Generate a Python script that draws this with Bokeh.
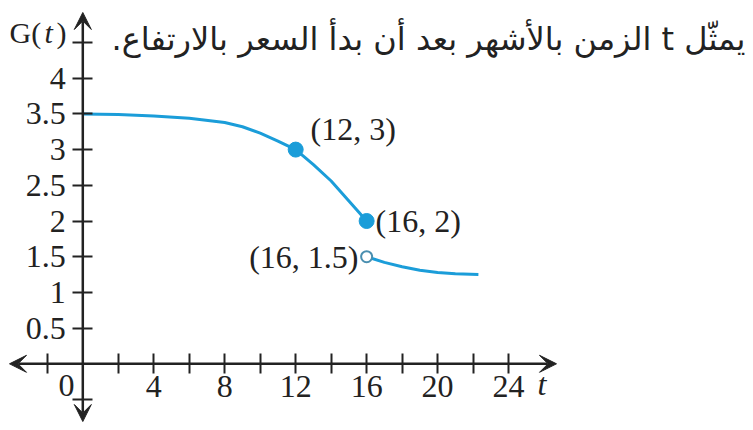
from bokeh.plotting import figure
from bokeh.models import FixedTicker, Arrow, VeeHead, LinearAxis, Range1d
from bokeh.core.properties import value
from bokeh.embed import file_html
from bokeh.resources import INLINE

# ---- data ----
seg1_t = [0, 2, 4, 6, 8, 9, 10, 11, 12, 13, 14, 15, 16]
seg1_g = [3.5, 3.49, 3.47, 3.44, 3.38, 3.32, 3.23, 3.12, 3.0, 2.79, 2.56, 2.28, 2.0]
seg2_t = [16, 17, 18, 19, 20, 21, 22.3]
seg2_g = [1.5, 1.42, 1.36, 1.31, 1.28, 1.26, 1.25]
closed_t = [12, 16]
closed_g = [3, 2]
open_t = [16]
open_g = [1.5]
x_major = [4, 8, 12, 16, 20, 24]
x_minor = [-2, 2, 6, 10, 14, 18, 22]
y_major = [0.5, 1, 1.5, 2, 2.5, 3, 3.5, 4]
y_labels = ["0.5", "1", "1.5", "2", "2.5", "3", "3.5", "4"]
y_minor = [-0.5, 4.5]
point_labels = ["(12, 3)", "(16, 2)", "(16, 1.5)"]
title_text = "يمثّل t الزمن بالأشهر بعد أن بدأ السعر بالارتفاع."

# ---- geometry (page pixels -> data) ----
W, H = 750, 428
AX_PX, PXU = 82.3, 17.74
AY_PX, PYU = 363.3, 71.4


def dx(px):
    return (px - AX_PX) / PXU


def dy(py):
    return (AY_PX - py) / PYU


INK = "#222222"
BLUE = "#1b9dd9"
SERIF = "Liberation Serif"
FS = "32px"

p = figure(width=W, height=H, x_range=Range1d(dx(0), dx(W)),
           y_range=Range1d(dy(H), dy(0)),
           output_backend="svg", toolbar_location=None,
           x_axis_location=None, y_axis_location=None,
           min_border=0, outline_line_color=None)
p.grid.visible = False

xa = LinearAxis(ticker=FixedTicker(ticks=x_major, minor_ticks=x_minor), fixed_location=0)
ya = LinearAxis(ticker=FixedTicker(ticks=y_major, minor_ticks=y_minor), fixed_location=0)
ya.major_label_overrides = {k: v for k, v in zip(y_major, y_labels)}
for ax in (xa, ya):
    ax.axis_line_color = None
    ax.major_tick_line_color = INK
    ax.minor_tick_line_color = INK
    ax.major_tick_line_width = 2
    ax.minor_tick_line_width = 2
    ax.major_tick_in = 10
    ax.major_tick_out = 10
    ax.minor_tick_in = 10
    ax.minor_tick_out = 10
    ax.major_label_text_font = SERIF
    ax.major_label_text_font_size = FS
    ax.major_label_text_color = INK
xa.major_label_standoff = 2
ya.major_label_standoff = 7
p.add_layout(xa, "below")
p.add_layout(ya, "left")


# axis lines with arrow heads
def head():
    return VeeHead(size=17, fill_color=INK, line_color=INK, line_width=1)


p.add_layout(Arrow(start=head(), end=head(), x_start=dx(9), y_start=0,
                   x_end=dx(556), y_end=0, line_color=INK, line_width=2.5))
p.add_layout(Arrow(start=head(), end=head(), x_start=0, y_start=dy(421),
                   x_end=0, y_end=dy(12), line_color=INK, line_width=2.5))

# curves
p.line(seg1_t, seg1_g, line_color=BLUE, line_width=3)
p.line(seg2_t, seg2_g, line_color=BLUE, line_width=3)
p.scatter(closed_t, closed_g, size=15, fill_color=BLUE, line_color=BLUE)
p.scatter(open_t, open_g, size=11, fill_color="white", line_color="#4a8fb0", line_width=2)

# point labels
p.text([dx(310)], [dy(128)], text=[point_labels[0]], text_font=value(SERIF),
       text_font_size=FS, text_color=INK, text_baseline="middle", text_align="left")
p.text([dx(375)], [closed_g[1]], text=[point_labels[1]], text_font=value(SERIF),
       text_font_size=FS, text_color=INK, text_baseline="middle", text_align="left")
p.text([dx(358)], [open_g[0]], text=[point_labels[2]], text_font=value(SERIF),
       text_font_size=FS, text_color=INK, text_baseline="middle", text_align="right")

# zero label and t label
p.text([dx(66)], [dy(385)], text=["0"], text_font=value(SERIF), text_font_size=FS,
       text_color=INK, text_baseline="middle", text_align="center")
p.text([dx(537)], [dy(383)], text=["t"], text_font=value(SERIF), text_font_size=FS,
       text_font_style="italic", text_color=INK, text_baseline="middle", text_align="left")

# G(t) label
GFS = "30px"
p.text([dx(9)], [dy(32)], text=["G("], text_font=value(SERIF), text_font_size=GFS,
       text_color=INK, text_baseline="alphabetic", text_align="left")
p.text([dx(44)], [dy(32)], text=["t"], text_font=value(SERIF), text_font_size=GFS,
       text_font_style="italic", text_color=INK, text_baseline="alphabetic", text_align="left")
p.text([dx(56)], [dy(32)], text=[")"], text_font=value(SERIF), text_font_size=GFS,
       text_color=INK, text_baseline="alphabetic", text_align="left")

# Arabic caption (right-to-left embedding)
p.text([dx(745)], [dy(38)], text=["\u202B" + title_text + "\u202C"],
       text_font=value("DejaVu Sans"), text_font_size="32px", text_color=INK,
       text_baseline="alphabetic", text_align="right")

open("out.html", "w").write(file_html(p, INLINE))
